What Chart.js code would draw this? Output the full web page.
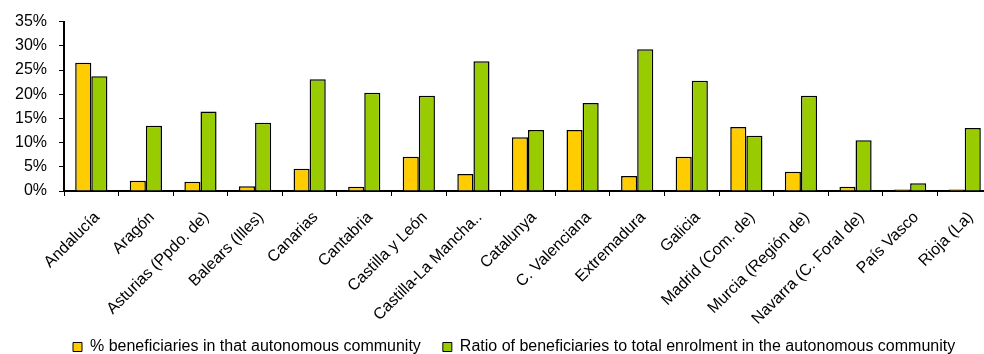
<!DOCTYPE html>
<html>
<head>
	<meta charset="utf-8">
	<title>Beneficiaries by autonomous community</title>
	<script src="https://cdn.jsdelivr.net/npm/chart.js@4/dist/chart.umd.min.js"></script>
	<style>
		body { margin: 0; background: #fff; overflow: hidden; }
		#wrap { width: 1000px; height: 354px; }
	</style>
</head>
<body>
	<div id="wrap"><canvas id="chart1" width="1000" height="354"></canvas></div>
<script>
	// data
	var communities = ["Andalucía", "Aragón", "Asturias (Ppdo. de)", "Balears (Illes)", "Canarias", "Cantabria",
		"Castilla y León", "Castilla-La Mancha..", "Catalunya", "C. Valenciana", "Extremadura", "Galicia",
		"Madrid (Com. de)", "Murcia (Región de)", "Navarra (C. Foral de)", "País Vasco", "Rioja (La)"];
	var pctBeneficiaries = [26.5, 2.1, 1.9, 1.0, 4.6, 0.9, 7.1, 3.5, 11.1, 12.6, 3.1, 7.1, 13.2, 4.0, 0.9, 0.3, 0.3];
	var ratioEnrolment = [23.7, 13.5, 16.4, 14.1, 23.1, 20.3, 19.7, 26.8, 12.6, 18.2, 29.3, 22.8, 11.4, 19.7, 10.5, 1.6, 13.0];
	var yTicks = [0, 5, 10, 15, 20, 25, 30, 35];

	var font = "'Liberation Sans', Arial, sans-serif";

	// move the legend to where it sits in the original picture,
	// and let the x labels run down past the axis box so they are not clipped
	var legendPlace = {
		id: 'legendPlace',
		afterLayout: function (chart) {
			var lg = chart.legend;
			lg.top += 11;
			lg.bottom += 11;
			lg.left += 51;
			lg.right += 51;
			chart.scales.x.bottom += 30;
		}
	};

	var ctx = document.getElementById("chart1");
	var chart = new Chart(ctx, {
		type: 'bar',
		data: {
			labels: communities,
			datasets: [{
				label: '% beneficiaries in that autonomous community',
				data: pctBeneficiaries,
				backgroundColor: '#FFCC00',
				borderColor: '#000',
				borderWidth: 1.5
			}, {
				label: 'Ratio of beneficiaries to total enrolment in the autonomous community',
				data: ratioEnrolment,
				backgroundColor: '#99CC00',
				borderColor: '#000',
				borderWidth: 1.5
			}]
		},
		options: {
			responsive: false,
			animation: false,
			layout: { padding: { left: 0, right: 8, top: 14, bottom: 0 } },
			datasets: { bar: { categoryPercentage: 0.59, barPercentage: 1.0 } },
			plugins: {
				tooltip: { enabled: false },
				legend: {
					position: 'bottom',
					align: 'start',
					labels: {
						font: { family: font, size: 16 },
						color: '#000',
						boxWidth: 9,
						boxHeight: 9,
						padding: 22,
						generateLabels: function (c) {
							return c.data.datasets.map(function (ds, i) {
								return {
									text: ds.label, fillStyle: ds.backgroundColor, strokeStyle: '#000',
									lineWidth: 1, datasetIndex: i, hidden: false
								};
							});
						}
					}
				}
			},
			scales: {
				x: {
					afterFit: function (axis) { axis.height = 115; },
					grid: { offset: true, drawOnChartArea: false, color: '#000', tickLength: 5, tickWidth: 1 },
					border: { color: '#000', width: 2 },
					ticks: {
						font: { family: font, size: 16 },
						color: '#000',
						minRotation: 45,
						maxRotation: 45,
						autoSkip: false,
						padding: 12,
						labelOffset: 6
					}
				},
				y: {
					min: 0,
					max: 35,
					afterBuildTicks: function (axis) {
						axis.ticks = yTicks.map(function (v) { return { value: v }; });
					},
					afterFit: function (axis) { axis.width = 64; },
					grid: { drawOnChartArea: false, color: '#000', tickLength: 5 },
					border: { color: '#000', width: 2 },
					ticks: {
						font: { family: font, size: 16 },
						color: '#000',
						padding: 12,
						callback: function (v) { return v + '%'; }
					}
				}
			}
		},
		plugins: [legendPlace]
	});
</script>
</body>
</html>
